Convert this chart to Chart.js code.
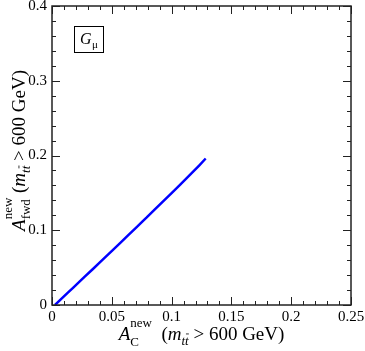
<!DOCTYPE html>
<html>
<head>
<meta charset="utf-8">
<script src="https://cdn.jsdelivr.net/npm/chart.js@4.4.1/dist/chart.umd.min.js"></script>
<style>
  html, body { margin: 0; padding: 0; background: #fff; }
</style>
</head>
<body>
<canvas id="chart" width="365" height="351"></canvas>
<script>
// values
const xTicks = [0, 0.05, 0.1, 0.15, 0.2, 0.25];
const yTicks = [0, 0.1, 0.2, 0.3, 0.4];
const acNew = [0.0025, 0.008, 0.0135, 0.0178, 0.023, 0.0276, 0.034, 0.04, 0.0457, 0.051, 0.0569, 0.064,
  0.0708, 0.0755, 0.0792, 0.086, 0.0931, 0.1, 0.107, 0.112, 0.118, 0.123, 0.1285];
const afwdNew = [0.000, 0.0085, 0.0168, 0.0232, 0.0312, 0.0382, 0.0478, 0.0570, 0.0656, 0.0738, 0.0828, 0.0938,
  0.1042, 0.1116, 0.1172, 0.1280, 0.1390, 0.1498, 0.1608, 0.1688, 0.1784, 0.1866, 0.1960];
const seriesName = 'G';
const seriesSub = 'μ';

const FONT = '"Liberation Serif", "Times New Roman", serif';

// draws a run of text pieces (sup/sub), centred at 0 on the baseline 0
function drawRich(ctx, runs) {
  let x = 0, prevStart = 0, prevW = 0;
  const placed = [];
  runs.forEach(r => {
    ctx.font = (r.it ? 'italic ' : '') + r.px + 'px ' + FONT;
    const w = ctx.measureText(r.t).width;
    let sx;
    if (r.back) {
      sx = prevStart;
      prevW = Math.max(prevW, w);
      x = prevStart + prevW;
    } else {
      sx = x;
      x += w;
      prevStart = sx;
      prevW = w;
    }
    placed.push(Object.assign({}, r, { sx: sx, w: w }));
  });
  const off = -x / 2;
  placed.forEach(r => {
    ctx.font = (r.it ? 'italic ' : '') + r.px + 'px ' + FONT;
    ctx.fillText(r.t, off + r.sx, r.dy || 0);
    if (r.bar) {
      const by = (r.dy || 0) - r.px * 0.85;
      ctx.beginPath();
      ctx.moveTo(off + r.sx + r.w * 0.25, by);
      ctx.lineTo(off + r.sx + r.w * 1.05, by);
      ctx.lineWidth = 0.8;
      ctx.stroke();
    }
  });
}

const framePlugin = {
  id: 'frame',
  afterDraw(chart) {
    const ctx = chart.ctx;
    const a = chart.chartArea;
    const xs = chart.scales.x, ys = chart.scales.y;
    ctx.save();
    ctx.strokeStyle = '#222';
    ctx.fillStyle = '#000';

    // minor / major ticks pointing inward, on all four sides
    ctx.lineWidth = 1;
    ctx.beginPath();
    for (let i = 0; i <= 25; i++) {
      const px = Math.round(xs.getPixelForValue(i * 0.01)) + 0.5;
      const len = i % 5 === 0 ? 8 : 4;
      ctx.moveTo(px, a.bottom); ctx.lineTo(px, a.bottom - len);
      ctx.moveTo(px, a.top); ctx.lineTo(px, a.top + len);
    }
    for (let i = 0; i <= 20; i++) {
      const py = Math.round(ys.getPixelForValue(i * 0.02)) + 0.5;
      const len = i % 5 === 0 ? 8 : 4;
      ctx.moveTo(a.left, py); ctx.lineTo(a.left + len, py);
      ctx.moveTo(a.right, py); ctx.lineTo(a.right - len, py);
    }
    ctx.stroke();

    ctx.lineWidth = 1.5;
    ctx.strokeRect(a.left, a.top, a.right - a.left, a.bottom - a.top);

    // tick labels
    ctx.font = '15px ' + FONT;
    ctx.textAlign = 'center';
    ctx.textBaseline = 'middle';
    xTicks.forEach(v => ctx.fillText(String(v), xs.getPixelForValue(v), a.bottom + 12));
    ctx.textAlign = 'right';
    yTicks.forEach(v => ctx.fillText(String(v), a.left - 5, ys.getPixelForValue(v)));

    // axis titles
    ctx.strokeStyle = '#000';
    ctx.textAlign = 'left';
    ctx.textBaseline = 'alphabetic';
    ctx.save();
    ctx.translate((a.left + a.right) / 2, 340);
    drawRich(ctx, [
      { t: 'A', px: 19, it: true },
      { t: 'new', px: 13, dy: -13 },
      { t: 'C', px: 13, dy: 6, back: true },
      { t: '  (', px: 19 },
      { t: 'm', px: 19, it: true },
      { t: 't', px: 13, it: true, dy: 5 },
      { t: 't', px: 13, it: true, dy: 5, bar: true },
      { t: ' > 600 GeV)', px: 19 }
    ]);
    ctx.restore();

    ctx.save();
    ctx.translate(25, (a.top + a.bottom) / 2 - 5);
    ctx.rotate(-Math.PI / 2);
    drawRich(ctx, [
      { t: 'A', px: 19, it: true },
      { t: 'new', px: 13, dy: -13 },
      { t: 'fwd', px: 13, dy: 5, back: true },
      { t: ' (', px: 19 },
      { t: 'm', px: 19, it: true },
      { t: 't', px: 13, it: true, dy: 5 },
      { t: 't', px: 13, it: true, dy: 5, bar: true },
      { t: ' > 600 GeV)', px: 19 }
    ]);
    ctx.restore();

    // legend box
    ctx.strokeStyle = '#000';
    ctx.lineWidth = 1;
    ctx.strokeRect(74.5, 26.5, 29, 26);
    ctx.font = 'italic 16px ' + FONT;
    ctx.fillText(seriesName, 80, 44);
    ctx.font = '11px ' + FONT;
    ctx.fillText(seriesSub, 92, 48);

    ctx.restore();
  }
};

new Chart(document.getElementById('chart'), {
  type: 'scatter',
  data: {
    datasets: [{
      label: seriesName + seriesSub,
      data: acNew.map((v, i) => ({ x: v, y: afwdNew[i] })),
      showLine: true,
      borderColor: '#0000ff',
      borderWidth: 2.5,
      pointRadius: 0,
      tension: 0,
      fill: false
    }]
  },
  options: {
    responsive: false,
    animation: false,
    devicePixelRatio: 1,
    layout: { padding: { top: 6, right: 14, left: 0, bottom: 0 } },
    plugins: { legend: { display: false }, tooltip: { enabled: false } },
    scales: {
      x: {
        type: 'linear',
        min: 0,
        max: 0.25,
        afterFit: s => { s.height = 46; },
        grid: { display: false },
        border: { display: false },
        ticks: { display: false }
      },
      y: {
        type: 'linear',
        min: 0,
        max: 0.4,
        afterFit: s => { s.width = 52; },
        grid: { display: false },
        border: { display: false },
        ticks: { display: false }
      }
    }
  },
  plugins: [framePlugin]
});
</script>
</body>
</html>
